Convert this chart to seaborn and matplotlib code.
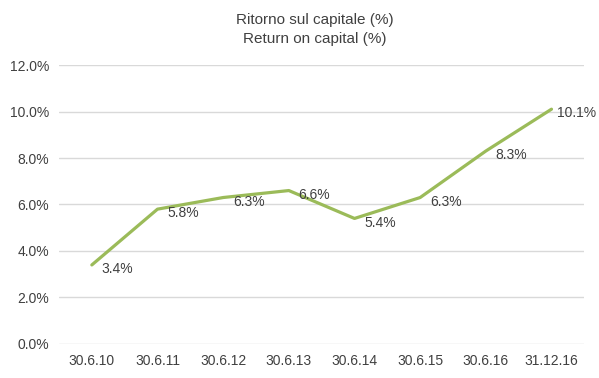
import pandas as pd
import seaborn as sns
import matplotlib.pyplot as plt
from matplotlib.ticker import PercentFormatter

dates = ["30.6.10", "30.6.11", "30.6.12", "30.6.13", "30.6.14", "30.6.15", "30.6.16", "31.12.16"]
roc = [3.4, 5.8, 6.3, 6.6, 5.4, 6.3, 8.3, 10.1]

df = pd.DataFrame({"date": dates, "roc": roc})

sns.set_style("white")
plt.rcParams["font.family"] = ["Liberation Sans", "DejaVu Sans"]
txt = "#404040"

fig = plt.figure(figsize=(5.99, 3.78), dpi=100)
ax = fig.add_axes([0.0985, 0.09, 0.877, 0.738])

sns.lineplot(data=df, x="date", y="roc", ax=ax, color="#9bbb59", linewidth=2.3, sort=False)

for i, v in enumerate(roc):
    dx = 4 if i == len(roc) - 1 else 7
    ax.annotate(f"{v:.1f}%", (i, v), xytext=(dx, -3), textcoords="offset points",
                ha="left", va="center", fontsize=10, color=txt)

ax.set_ylim(0, 12)
ax.set_xlim(-0.5, len(dates) - 0.5)
ax.set_yticks([0, 2, 4, 6, 8, 10, 12])
ax.yaxis.set_major_formatter(PercentFormatter(decimals=1))
ax.grid(axis="y", color="#d9d9d9", linewidth=1)
ax.set_axisbelow(True)
for s in ax.spines.values():
    s.set_visible(False)
ax.tick_params(axis="both", length=0, labelsize=10, colors=txt, pad=7)
ax.set_xlabel("")
ax.set_ylabel("")

fig.text(0.525, 0.922, "Ritorno sul capitale (%)\nReturn on capital (%)", ha="center", va="center",
         fontsize=11, color=txt, linespacing=1.4)

plt.savefig("out.png", dpi=100)
